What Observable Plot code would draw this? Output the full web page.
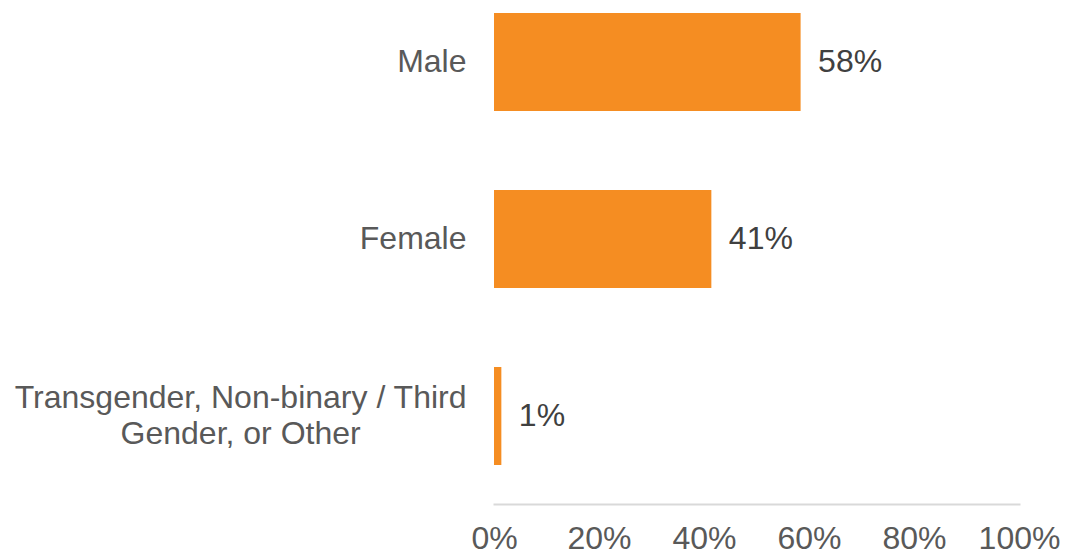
<!DOCTYPE html>
<html>
<head>
<meta charset="utf-8">
<script src="https://cdn.jsdelivr.net/npm/d3@7"></script>
<script src="https://cdn.jsdelivr.net/npm/@observablehq/plot@0.6"></script>
<style>
  html, body { margin: 0; padding: 0; background: #fff; }
  #chart svg { display: block; }
</style>
</head>
<body>
<div id="chart"></div>
<script>
const categories = ["Male", "Female", "Transgender, Non-binary / Third\nGender, or Other"];
const values = [58.4, 41.4, 1.4];
const xTicks = [0, 20, 40, 60, 80, 100];

const data = categories.map((c, i) => ({category: c, value: values[i]}));

const FONT = "'Liberation Sans', Arial, sans-serif";

const chart = Plot.plot({
  width: 1069,
  height: 557,
  marginLeft: 494,
  marginRight: 50,
  marginTop: 12,
  marginBottom: 53,
  style: {fontFamily: FONT, fontSize: "32px", background: "#fff"},
  x: {domain: [0, 100]},
  y: {domain: categories, range: [12, 465], paddingInner: 0.448, paddingOuter: 0},
  marks: [
    Plot.frame({anchor: "bottom", stroke: "#d9d9d9", strokeWidth: 2, strokeOpacity: 1}),
    Plot.barX(data, {x: "value", y: "category", fill: "#F58D22"}),
    Plot.text(data, {
      x: "value", y: "category",
      text: d => Math.round(d.value) + "%",
      textAnchor: "start", dx: 17, dy: -1,
      fill: "#404040", fontSize: 32
    }),
    Plot.axisX({
      ticks: xTicks, tickSize: 0, tickPadding: 22,
      tickFormat: d => d + "%", label: null,
      fill: "#595959", fontSize: 32
    }),
    Plot.axisY({
      tickSize: 0, tickPadding: 28, label: null, dy: -2,
      fill: "#595959", fontSize: 32, lineHeight: 1.13
    })
  ]
});

document.getElementById("chart").appendChild(chart);

// Center multi-line category labels on their widest line (right edge stays aligned)
chart.querySelectorAll("g[aria-label='y-axis tick label'] text").forEach(t => {
  const tspans = t.querySelectorAll("tspan");
  if (tspans.length > 1) {
    let w = 0;
    tspans.forEach(s => { w = Math.max(w, s.getComputedTextLength()); });
    t.setAttribute("text-anchor", "middle");
    const cur = t.getAttribute("transform") || "";
    t.setAttribute("transform", cur + ` translate(${-w / 2},0)`);
  }
});
</script>
</body>
</html>
